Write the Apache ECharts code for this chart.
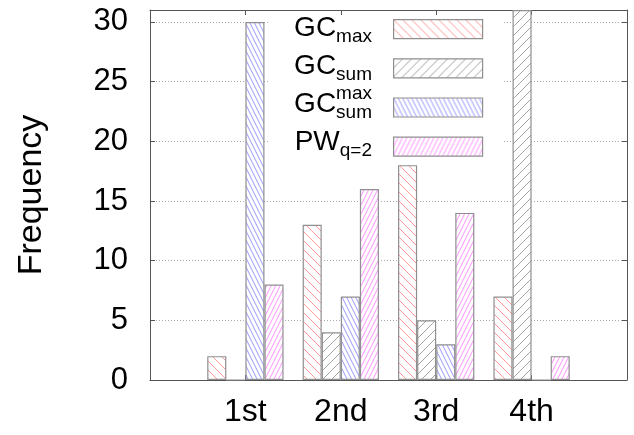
<!DOCTYPE html>
<html>
<head>
<meta charset="utf-8">
<script src="https://cdn.jsdelivr.net/npm/echarts@6/dist/echarts.min.js"></script>
<style>
  html, body { margin: 0; padding: 0; background: #fff; }
  #chart { width: 634px; height: 435px; }
</style>
</head>
<body>
<div id="chart"></div>
<script>
// Rank categories along the x axis
const categories = ['1st', '2nd', '3rd', '4th'];

// Frequency of each rank per method
const gcMax    = [2, 13, 18, 7];
const gcSum    = [0, 4, 5, 31];
const gcSumMax = [30, 7, 3, 0];
const pwQ2     = [8, 16, 14, 2];

// Y axis ticks
const yTicks = [0, 5, 10, 15, 20, 25, 30];

// Legend labels: main text with sub/superscripts
const legendMain = ['GC', 'GC', 'GC', 'PW'];
const legendSub  = ['max', 'sum', 'sum', 'q=2'];
const legendSup  = ['', '', 'max', ''];

const FONT = '"Liberation Sans", Arial, Helvetica, sans-serif';

// Build a repeating hatch fill. dir '\\' or '/', spacing = horizontal gap, slope = dy/dx
function hatch(color, spacing, slope, dir) {
  const w = Math.round(spacing * 2);
  const h = Math.round(w * slope);
  const c = document.createElement('canvas');
  c.width = w; c.height = h;
  const ctx = c.getContext('2d');
  ctx.fillStyle = '#fff';
  ctx.fillRect(0, 0, w, h);
  ctx.strokeStyle = color;
  ctx.lineWidth = 0.9;
  ctx.beginPath();
  for (let j = -3; j <= 3; j++) {
    const x0 = j * spacing;
    if (dir === '\\') { ctx.moveTo(x0, 0); ctx.lineTo(x0 + w, h); }
    else { ctx.moveTo(x0, h); ctx.lineTo(x0 + w, 0); }
  }
  ctx.stroke();
  return { image: c, repeat: 'repeat' };
}

const fills = [
  hatch('#ff8c8c', 9, 1, '\\'),
  hatch('#999999', 9, 1, '/'),
  hatch('#8c8cff', 4.5, 2, '\\'),
  hatch('#ff85ff', 4.5, 2, '/')
];
const seriesNames = ['GCmax', 'GCsum', 'GCsummax', 'PWq2'];
const seriesValues = [gcMax, gcSum, gcSumMax, pwQ2];
const BORDER = '#8f8f8f';

const series = seriesNames.map((name, k) => ({
  name: name,
  type: 'bar',
  xAxisIndex: 0,
  yAxisIndex: 0,
  data: seriesValues[k].map((v, i) => [i, v]),
  barWidth: '20%',
  barGap: '0%',
  clip: true,
  z: 2,
  itemStyle: { color: fills[k], borderColor: BORDER, borderWidth: 1.2 },
  emphasis: { disabled: true }
}));

// Legend text (right-aligned in front of the swatches)
const measureCtx = document.createElement('canvas').getContext('2d');
function textWidth(str, size) {
  measureCtx.font = size + 'px ' + FONT;
  return measureCtx.measureText(str).width;
}
const LEG_LEFT = 393, LEG_TOP = 19, LEG_H = 19, LEG_GAP = 19;
const TEXT_RIGHT = 372, MAIN_FS = 28, SUB_FS = 19;
function textAt(str, x, baseline, fs) {
  return {
    type: 'text', x: x, y: baseline - 0.35 * fs, z: 10,
    style: { text: str, font: fs + 'px ' + FONT, fill: '#000', align: 'right', verticalAlign: 'middle' }
  };
}
const legendGraphics = [];
legendMain.forEach((m, i) => {
  const base = LEG_TOP + i * (LEG_H + LEG_GAP) + LEG_H;
  const wSub = Math.max(textWidth(legendSub[i], SUB_FS), legendSup[i] ? textWidth(legendSup[i], SUB_FS) : 0);
  legendGraphics.push(textAt(m, TEXT_RIGHT - wSub, base, MAIN_FS));
  legendGraphics.push({
    type: 'text', x: TEXT_RIGHT - wSub, y: base + 5.5 - 0.35 * SUB_FS, z: 10,
    style: { text: legendSub[i], font: SUB_FS + 'px ' + FONT, fill: '#000', align: 'left', verticalAlign: 'middle' }
  });
  if (legendSup[i]) {
    legendGraphics.push({
      type: 'text', x: TEXT_RIGHT - wSub, y: base - 13.5 - 0.35 * SUB_FS, z: 10,
      style: { text: legendSup[i], font: SUB_FS + 'px ' + FONT, fill: '#000', align: 'left', verticalAlign: 'middle' }
    });
  }
});

const AXIS = '#555';
const chart = echarts.init(document.getElementById('chart'), null, { renderer: 'canvas' });
chart.setOption({
  animation: false,
  backgroundColor: '#fff',
  grid: { left: 150, right: 7, top: 10, bottom: 55, containLabel: false },
  xAxis: [
    {
      type: 'value', min: -1, max: 4, interval: 1, position: 'bottom',
      axisLine: { onZero: false, lineStyle: { color: AXIS, width: 1 } },
      axisTick: { inside: true, length: 5, lineStyle: { color: AXIS } },
      axisLabel: {
        formatter: v => categories[v] !== undefined ? categories[v] : '',
        fontSize: 32, fontFamily: FONT, color: '#000', margin: 16
      },
      splitLine: { show: false }
    },
    {
      type: 'value', min: -1, max: 4, interval: 1, position: 'top',
      axisLine: { onZero: false, lineStyle: { color: AXIS, width: 1 } },
      axisTick: { inside: true, length: 5, lineStyle: { color: AXIS } },
      axisLabel: { show: false },
      splitLine: { show: false }
    }
  ],
  yAxis: [
    {
      type: 'value', min: 0, max: 31, interval: 5,
      axisLine: { show: true, onZero: false, lineStyle: { color: AXIS, width: 1 } },
      axisTick: { inside: true, length: 5, lineStyle: { color: AXIS } },
      axisLabel: {
        formatter: v => yTicks.indexOf(v) >= 0 ? String(v) : '',
        fontSize: 31, fontFamily: FONT, color: '#000', margin: 22, showMaxLabel: false
      },
      splitLine: { show: true, lineStyle: { color: '#a8a8a8', width: 1, type: [1, 2] } },
      name: 'Frequency', nameLocation: 'middle', nameGap: 101,
      nameTextStyle: { fontSize: 34, fontFamily: FONT, color: '#000' }
    },
    {
      type: 'value', min: 0, max: 31, interval: 5, position: 'right',
      axisLine: { show: true, onZero: false, lineStyle: { color: AXIS, width: 1 } },
      axisTick: { inside: true, length: 5, lineStyle: { color: AXIS } },
      axisLabel: { show: false },
      splitLine: { show: false }
    }
  ],
  legend: {
    orient: 'vertical', left: LEG_LEFT, top: LEG_TOP, padding: 0,
    itemWidth: 89, itemHeight: LEG_H, itemGap: LEG_GAP,
    icon: 'rect', selectedMode: false,
    formatter: () => '',
    textStyle: { fontSize: 10 },
    data: seriesNames.map(n => ({ name: n, itemStyle: { borderColor: BORDER, borderWidth: 1.2 } }))
  },
  graphic: [
    // opaque key box: hides grid lines behind the legend
    { type: 'rect', shape: { x: 270, y: 16, width: 233, height: 144 }, style: { fill: '#fff' }, z: 1, silent: true },
    ...legendGraphics
  ],
  series: series
});
</script>
</body>
</html>
